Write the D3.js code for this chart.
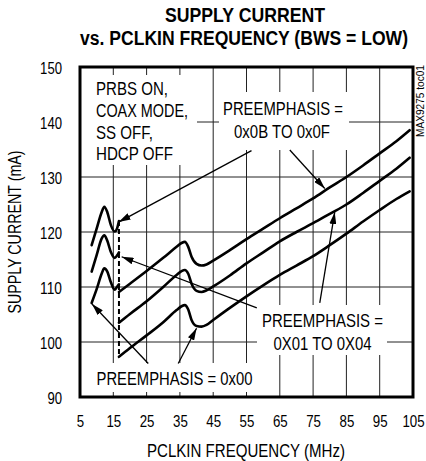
<!DOCTYPE html>
<html><head><meta charset="utf-8">
<script src="https://cdn.jsdelivr.net/npm/d3@7"></script>
<style>
body{margin:0;background:#fff}
text{font-family:"Liberation Sans Narrow","Arial Narrow","Liberation Sans",Arial,sans-serif;fill:#000}
</style>
</head><body>
<svg id="c" width="426" height="461"></svg>
<script>
// ---- data ----
const xTicks = [5, 15, 25, 35, 45, 55, 65, 75, 85, 95, 105];
const yTicks = [90, 100, 110, 120, 130, 140, 150];
const seriesNames = ["PREEMPHASIS = 0x0B TO 0x0F", "PREEMPHASIS = 0X01 TO 0X04", "PREEMPHASIS = 0x00"];

// low-frequency regime (below the ~16.7 MHz switch)
const freqLow = [8.5, 10, 11.5, 12.3, 13.2, 14.3, 15.4, 16.1, 16.7];
const lowTop = [117.6, 120.6, 123.6, 124.6, 123.6, 121.2, 120.1, 120.6, 122.0];
const lowMid = [112.8, 115.8, 118.8, 119.4, 118.4, 116.3, 115.3, 115.7, 116.3];
const lowBot = [107.1, 109.6, 112.4, 113.4, 112.8, 110.8, 109.5, 110.0, 110.5];

// high-frequency regime
const freqHigh = [16.7, 20, 25, 30, 34, 35.5, 36.5, 37.5, 38.5, 40, 41.5, 43, 45, 50, 55, 60, 65, 70, 75, 80, 85, 90, 95, 100, 104];
const highTop = [109.1, 110.6, 112.9, 115.3, 117.3, 118.0, 118.2, 117.3, 115.5, 114.2, 113.9, 114.1, 114.8, 116.7, 118.7, 120.6, 122.5, 124.3, 126.1, 128.1, 130.0, 132.1, 134.3, 136.5, 138.5];
const highMid = [103.5, 105.1, 107.4, 110.0, 112.2, 112.9, 113.1, 112.4, 110.6, 109.3, 109.1, 109.4, 110.1, 112.1, 114.3, 116.3, 118.3, 120.0, 121.6, 123.3, 125.0, 127.1, 129.3, 131.5, 133.5];
const highBot = [97.3, 98.9, 101.2, 103.6, 105.8, 106.5, 106.7, 105.9, 104.0, 102.9, 102.8, 103.1, 104.0, 106.2, 108.3, 110.3, 112.2, 113.9, 115.6, 117.6, 119.7, 121.9, 124.0, 126.0, 127.4];

// ---- layout ----
const svg = d3.select("#c");
const L = 80, R = 413, T = 67, B = 397;
const x = d3.scaleLinear().domain([5, 105]).range([L, R]);
const y = d3.scaleLinear().domain([90, 150]).range([B, T]);
const fit = (sel, w) => sel.attr("textLength", w).attr("lengthAdjust", "spacingAndGlyphs");

// title
fit(svg.append("text").attr("x", 245).attr("y", 22).attr("text-anchor", "middle")
  .style("font-weight", "bold").style("font-size", "19.5px").text("SUPPLY CURRENT"), 160);
fit(svg.append("text").attr("x", 244).attr("y", 44.5).attr("text-anchor", "middle")
  .style("font-weight", "bold").style("font-size", "19.5px").text("vs. PCLKIN FREQUENCY (BWS = LOW)"), 328);

// grid
const g = svg.append("g");
g.selectAll(".vg").data(xTicks.slice(1, -1)).enter().append("line")
  .attr("x1", d => x(d)).attr("x2", d => x(d)).attr("y1", T).attr("y2", B)
  .attr("stroke", "#222").attr("stroke-width", 1);
g.selectAll(".hg").data(yTicks.slice(1, -1)).enter().append("line")
  .attr("y1", d => y(d)).attr("y2", d => y(d)).attr("x1", L).attr("x2", R)
  .attr("stroke", "#222").attr("stroke-width", 1);

// white label backgrounds (cover gridlines)
const boxes = [
  [81, 75, 197, 165],
  [219, 92, 349, 150],
  [257, 305, 387, 355],
  [81, 363, 256, 392]
];
svg.selectAll(".bx").data(boxes).enter().append("rect")
  .attr("x", d => d[0]).attr("y", d => d[1]).attr("width", d => d[2] - d[0]).attr("height", d => d[3] - d[1])
  .attr("fill", "#fff");

// axes tick labels
const xAxis = d3.axisBottom(x).tickValues(xTicks).tickSize(0).tickPadding(0).tickFormat(d3.format("d"));
const xa = svg.append("g").attr("transform", `translate(0,${B})`).call(xAxis);
xa.select(".domain").remove();
xa.selectAll("text").attr("dy", null).attr("y", 30).style("font-size", "17px").style("font-family", null)
  .attr("textLength", d => String(d).length * 7.4).attr("lengthAdjust", "spacingAndGlyphs");

const yAxis = d3.axisLeft(y).tickValues(yTicks).tickSize(0).tickPadding(0).tickFormat(d3.format("d"));
const ya = svg.append("g").attr("transform", `translate(62,0)`).call(yAxis);
ya.select(".domain").remove();
ya.selectAll("text").attr("x", 0).attr("dy", "0.36em").style("font-size", "17px").style("font-family", null)
  .attr("textLength", d => String(d).length * 7.3).attr("lengthAdjust", "spacingAndGlyphs");

// axis titles
fit(svg.append("text").attr("x", 246).attr("y", 457).attr("text-anchor", "middle")
  .style("font-size", "17.5px").text("PCLKIN FREQUENCY (MHz)"), 198);
fit(svg.append("text").attr("transform", "translate(20.5,232) rotate(-90)").attr("text-anchor", "middle")
  .style("font-size", "17.5px").text("SUPPLY CURRENT (mA)"), 163);
fit(svg.append("text").attr("transform", "translate(424,101) rotate(-90)").attr("text-anchor", "middle")
  .style("font-size", "11px").text("MAX9275 toc01"), 72);

// curves
const line = d3.line().x(d => x(d[0])).y(d => y(d[1])).curve(d3.curveMonotoneX);
const lows = [lowTop, lowMid, lowBot];
const highs = [highTop, highMid, highBot];
lows.forEach(vals => {
  svg.append("path").attr("d", line(freqLow.map((f, i) => [f, vals[i]])))
    .attr("fill", "none").attr("stroke", "#000").attr("stroke-width", 2.6).attr("stroke-linejoin", "round").attr("stroke-linecap", "round");
});
highs.forEach(vals => {
  svg.append("path").attr("d", line(freqHigh.map((f, i) => [f, vals[i]])))
    .attr("fill", "none").attr("stroke", "#000").attr("stroke-width", 2.6).attr("stroke-linejoin", "round").attr("stroke-linecap", "round");
});
// switch (dashed)
svg.append("line")
  .attr("x1", x(freqLow[freqLow.length - 1])).attr("x2", x(freqHigh[0]))
  .attr("y1", y(lowTop[lowTop.length - 1])).attr("y2", y(highBot[0]))
  .attr("stroke", "#000").attr("stroke-width", 2).attr("stroke-dasharray", "5,3");

// frame
svg.append("rect").attr("x", L).attr("y", T).attr("width", R - L).attr("height", B - T)
  .attr("fill", "none").attr("stroke", "#000").attr("stroke-width", 3);

// arrows (data coords: from -> to)
const defs = svg.append("defs");
defs.append("marker").attr("id", "ah").attr("viewBox", "0 0 12 7").attr("refX", 12).attr("refY", 3.5)
  .attr("markerWidth", 12).attr("markerHeight", 7).attr("markerUnits", "userSpaceOnUse").attr("orient", "auto")
  .append("path").attr("d", "M0,0 L12,3.5 L0,7 Z").attr("fill", "#000");
const arrows = [
  [[56.5, 134.8], [16.6, 121.8]],
  [[68, 134.9], [78.5, 127.9]],
  [[58.1, 106.2], [17.5, 115.5]],
  [[77, 107.1], [81.5, 123.6]],
  [[25.5, 96.1], [8.6, 106.9]],
  [[34.5, 96.1], [40.0, 102.5]]
];
svg.selectAll(".ar").data(arrows).enter().append("line")
  .attr("x1", d => x(d[0][0])).attr("y1", d => y(d[0][1]))
  .attr("x2", d => x(d[1][0])).attr("y2", d => y(d[1][1]))
  .attr("stroke", "#000").attr("stroke-width", 1.3).attr("marker-end", "url(#ah)");

// labels
const lab = (txt, xx, yy, w, anchor) => fit(svg.append("text").attr("x", xx).attr("y", yy)
  .attr("text-anchor", anchor || "start").style("font-size", "17.5px").text(txt), w);
lab("PRBS ON,", 96, 95, 72);
lab("COAX MODE,", 96, 117, 92);
lab("SS OFF,", 96, 139, 57);
lab("HDCP OFF", 96, 160, 77);
lab("PREEMPHASIS =", 283, 115, 120, "middle");
lab("0x0B TO 0x0F", 282, 138, 96, "middle");
lab("PREEMPHASIS =", 322.5, 327, 121, "middle");
lab("0X01 TO 0X04", 322.5, 350, 98, "middle");
lab("PREEMPHASIS = 0x00", 96.5, 385, 156);
</script>
</body></html>
